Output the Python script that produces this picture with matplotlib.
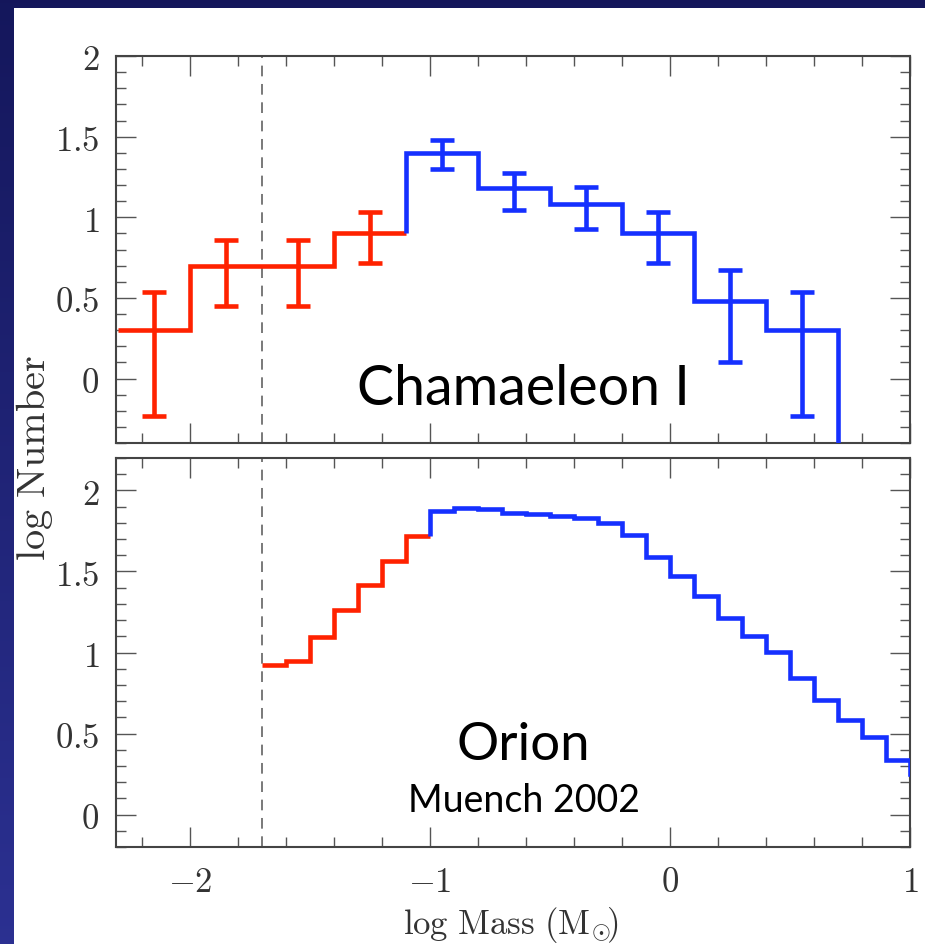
#!/usr/bin/env python3
"""Mass functions of Chamaeleon I and the Orion Nebula Cluster (log N vs log M)."""

import matplotlib as mpl

mpl.use("Agg")

import matplotlib.pyplot as plt
import numpy as np
from matplotlib.patches import Rectangle
from matplotlib.ticker import FuncFormatter, MultipleLocator

# Chamaeleon I: 0.3 dex bins, substellar part in red, stellar part in blue
cha_red_edges = [-2.3, -2.0, -1.7, -1.4, -1.1]
cha_red_logn = [0.30, 0.70, 0.70, 0.90]
cha_red_lo = [-0.23, 0.447, 0.447, 0.715]
cha_red_hi = [0.535, 0.86, 0.86, 1.035]

cha_blue_edges = [-1.1, -0.8, -0.5, -0.2, 0.1, 0.4, 0.7, 1.0]
cha_blue_logn = [1.40, 1.18, 1.08, 0.90, 0.48, 0.30]
cha_blue_lo = [1.30, 1.046, 0.93, 0.715, 0.10, -0.23]
cha_blue_hi = [1.477, 1.276, 1.19, 1.035, 0.675, 0.535]
EMPTY_BIN = -1.0  # last bin has no members, log N -> -inf

# Orion (Muench et al. 2002): 0.1 dex bins
ori_red_edges = [-1.7, -1.6, -1.5, -1.4, -1.3, -1.2, -1.1, -1.0]
ori_red_logn = [0.92, 0.945, 1.096, 1.263, 1.418, 1.563, 1.719]

ori_blue_edges = [-1.0, -0.9, -0.8, -0.7, -0.6, -0.5, -0.4, -0.3, -0.2, -0.1, 0.0,
                  0.1, 0.2, 0.3, 0.4, 0.5, 0.6, 0.7, 0.8, 0.9, 1.0, 1.1]
ori_blue_logn = [1.87, 1.89, 1.885, 1.863, 1.853, 1.843, 1.828, 1.80, 1.728, 1.59,
                 1.47, 1.348, 1.211, 1.10, 1.002, 0.845, 0.71, 0.586, 0.476, 0.337,
                 0.25]

HBL = -1.7  # hydrogen burning limit

RED = "#ff2200"
BLUE = "#1530ff"
LW = 3.3

W, H = 925, 945

mpl.rcParams["mathtext.fontset"] = "cm"


def draw_steps(ax, edges, logn, color, start=None):
    x = list(edges)
    y = list(logn) + [logn[-1]]
    if start is not None:
        x = [edges[0]] + x
        y = [start] + y
    ax.step(x, y, where="post", color=color, lw=LW,
            solid_joinstyle="miter", solid_capstyle="butt", zorder=3)


def draw_errors(ax, edges, logn, lo, hi, color):
    e = np.asarray(edges[: len(logn) + 1])
    centers = 0.5 * (e[:-1] + e[1:])
    logn = np.asarray(logn)
    yerr = [logn - np.asarray(lo), np.asarray(hi) - logn]
    ax.errorbar(centers, logn, yerr=yerr, fmt="none", ecolor=color,
                elinewidth=LW, capsize=8.5, capthick=LW, zorder=3)


def style_axis(ax, ylim, show_x):
    ax.set_xlim(-2.31, 1.0)
    ax.set_ylim(*ylim)
    ax.xaxis.set_major_locator(MultipleLocator(1.0))
    ax.xaxis.set_minor_locator(MultipleLocator(0.2))
    ax.yaxis.set_major_locator(MultipleLocator(0.5))
    ax.yaxis.set_minor_locator(MultipleLocator(0.1))
    fmt = FuncFormatter(lambda v, _: f"${v:g}$" if abs(v) > 1e-9 else "$0$")
    ax.xaxis.set_major_formatter(fmt)
    ax.yaxis.set_major_formatter(fmt)
    ax.tick_params(which="both", direction="in", top=True, right=True,
                   color="#555555", width=1.0, labelsize=25,
                   labelcolor="#333333", pad=12)
    ax.tick_params(which="major", length=14.5)
    ax.tick_params(which="minor", length=7.5)
    ax.tick_params(axis="x", labelbottom=show_x)
    for sp in ax.spines.values():
        sp.set_color("#444444")
        sp.set_linewidth(1.5)
    ax.axvline(HBL, color="#555555", lw=1.1, ls=(0, (7, 5)), zorder=1)


fig = plt.figure(figsize=(W / 100, H / 100), dpi=100)

# slide backdrop: dark blue frame with a lighter bottom, white plot area
bg = fig.add_axes([0, 0, 1, 1], zorder=-20)
grad = np.linspace(0, 1, 256)[:, None, None]
top_c = np.array([0.08, 0.09, 0.36])
bot_c = np.array([0.17, 0.19, 0.57])
bg.imshow(top_c + grad * (bot_c - top_c), extent=(0, W, H, 0), aspect="auto")
bg.add_patch(Rectangle((14, 9), W - 14, H - 9, color="white", lw=0))
bg.set_xlim(0, W)
bg.set_ylim(H, 0)
bg.axis("off")

ax_top = fig.add_axes([116 / W, 1 - 444 / H, 794 / W, 387 / H])
ax_bot = fig.add_axes([116 / W, 1 - 848 / H, 794 / W, 389 / H])

style_axis(ax_top, (-0.4, 2.0), False)
style_axis(ax_bot, (-0.2, 2.2), True)

draw_steps(ax_top, cha_red_edges, cha_red_logn, RED)
draw_steps(ax_top, cha_blue_edges, cha_blue_logn + [EMPTY_BIN], BLUE,
           start=cha_red_logn[-1])
draw_errors(ax_top, cha_red_edges, cha_red_logn, cha_red_lo, cha_red_hi, RED)
draw_errors(ax_top, cha_blue_edges, cha_blue_logn, cha_blue_lo, cha_blue_hi, BLUE)

draw_steps(ax_bot, ori_red_edges, ori_red_logn, RED)
draw_steps(ax_bot, ori_blue_edges, ori_blue_logn, BLUE, start=ori_red_logn[-1])

ax_top.text(-0.61, -0.16, "Chamaeleon I", family="Lato", fontsize=40,
            ha="center", va="baseline", color="black")
ax_bot.text(-0.61, 0.34, "Orion", family="Lato", fontsize=38,
            ha="center", va="baseline", color="black")
ax_bot.text(-0.61, 0.02, "Muench 2002", family="Lato", fontsize=27,
            ha="center", va="baseline", color="black")

fig.text(35 / W, 1 - 458 / H, r"$\mathrm{log\ Number}$", rotation=90,
         ha="center", va="center", fontsize=29, color="#333333")
fig.text(511 / W, 1 - 925 / H,
         r"$\mathrm{log\ Mass\ (M}_{\!\odot}\!\!\mathrm{)}$",
         ha="center", va="center", fontsize=25, color="#333333")

fig.savefig("out.png", dpi=100)
plt.close(fig)
